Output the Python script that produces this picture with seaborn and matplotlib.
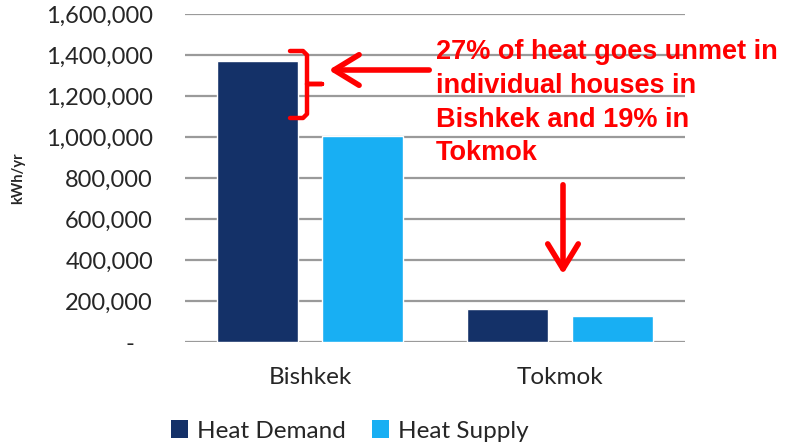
import matplotlib
matplotlib.use("Agg")
import matplotlib.pyplot as plt
import seaborn as sns
import pandas as pd
from matplotlib.lines import Line2D
from matplotlib.patches import Patch

cities = ["Bishkek", "Tokmok"]
series = ["Heat Demand", "Heat Supply"]
demand = [1370000, 163000]
supply = [1005000, 128000]
yticks = [0, 200000, 400000, 600000, 800000, 1000000, 1200000, 1400000, 1600000]
ytick_labels = ["-   ", "200,000", "400,000", "600,000", "800,000",
                "1,000,000", "1,200,000", "1,400,000", "1,600,000"]
colors = ["#143168", "#18AFF3"]
note = "27% of heat goes unmet in\nindividual houses in\nBishkek and 19% in\nTokmok"

df = pd.DataFrame({
    "city": cities * 2,
    "series": [series[0]] * 2 + [series[1]] * 2,
    "value": demand + supply,
})

sns.set_theme(style="white")
plt.rcParams["font.family"] = ["Lato", "DejaVu Sans"]

W, H = 790, 444
fig = plt.figure(figsize=(W / 100, H / 100), dpi=100)
ax = fig.add_axes([185 / W, 1 - 342 / H, 500 / W, 328 / H])

sns.barplot(data=df, x="city", y="value", hue="series", palette=colors,
            width=0.84, gap=0.22, ax=ax, legend=False, saturation=1)

ax.set_ylim(0, 1600000)
ax.set_yticks(yticks)
ax.set_yticklabels(ytick_labels, fontsize=17)
ax.set_xlim(-0.5, 1.5)
ax.tick_params(axis="y", length=0, pad=23)
ax.tick_params(axis="x", length=0, pad=18, labelsize=17.5)
ax.set_xlabel("")
ax.set_ylabel("kWh/yr", fontsize=10.5, fontweight="bold")
ax.yaxis.set_label_coords(-160 / 500, 0.5)
for s in ax.spines.values():
    s.set_visible(False)
ax.grid(axis="y", color="#9a9a9a", linewidth=1.6)
ax.set_axisbelow(True)

handles = [Patch(facecolor=c, edgecolor="none") for c in colors]
fig.legend(handles, series, loc="center", bbox_to_anchor=(350 / W, 1 - 431 / H),
           ncol=2, frameon=False, fontsize=17.5, handlelength=0.7,
           handleheight=0.7, handletextpad=0.35, columnspacing=1.1)

def fx(x):
    return x / W

def fy(y):
    return 1 - y / H

red = "#FF0000"
fig.text(fx(436), fy(39), note, color=red, fontsize=19.5, fontweight="bold",
         family=["Liberation Sans", "DejaVu Sans"], va="top", ha="left",
         linespacing=1.39)

# bracket
bx = [290, 303, 307, 307, 322, 307, 307, 303, 290]
by = [51, 51, 55, 84, 84, 84, 114, 118, 118]
fig.add_artist(Line2D([fx(v) for v in bx], [fy(v) for v in by], color=red,
                      linewidth=3.2, solid_joinstyle="round",
                      solid_capstyle="round", transform=fig.transFigure))

# arrows
fig.add_artist(matplotlib.patches.FancyArrowPatch(
    (fx(432), fy(70)), (fx(326), fy(70)), transform=fig.transFigure,
    arrowstyle="->,head_length=0.9,head_width=0.55", color=red, linewidth=4,
    mutation_scale=20))
fig.add_artist(matplotlib.patches.FancyArrowPatch(
    (fx(563), fy(182)), (fx(563), fy(277)), transform=fig.transFigure,
    arrowstyle="->,head_length=0.9,head_width=0.55", color=red, linewidth=4,
    mutation_scale=20))

fig.savefig("out.png", dpi=100)
